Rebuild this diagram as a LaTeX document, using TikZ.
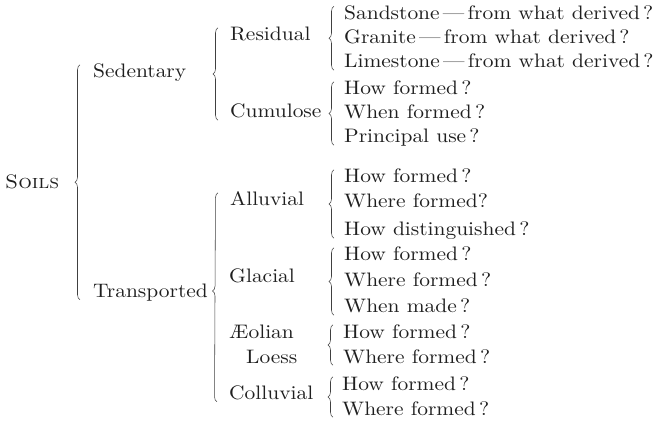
\documentclass[tikz,border=0pt]{standalone}
\usepackage{fontspec}
\setmainfont{lmroman10-regular.otf}[FakeStretch=1.1,SmallCapsFont=lmromancaps10-regular.otf,SmallCapsFeatures={FakeStretch=1.1}]
\usepackage{tikz}
\usetikzlibrary{decorations.pathreplacing}

\begin{document}
\begin{tikzpicture}[x=1pt,y=-1pt]
\tikzstyle{item}=[anchor=base west,inner sep=0pt,text height=13pt,text depth=2pt,font=\fontsize{19.5}{22}\selectfont,text=black!88]
\tikzstyle{brc}=[decorate,decoration={brace,amplitude=5pt},line width=0.55pt,draw=black!75]
\useasboundingbox (0,0) rectangle (662,422);
% root
\node[item] at(5, 189) (soils) {\textsc{Soils}};
\node[item] at(93, 78) (sedent) {Sedentary};
\node[item] at(93, 297.5) (transp) {Transported};
% second column
\node[item] at(230, 41) (resid) {Residual};
\node[item] at(230, 118) (cumul) {Cumulose};
\node[item] at(230, 206) (alluv) {Alluvial};
\node[item] at(229, 283) (glac) {Glacial};
\node[item] at(229, 338) (aeol) {\AE olian};
\node[item] at(246, 363) (loess) {Loess};
\node[item] at(229, 399.5) (colluv) {Colluvial};
% questions
\node[item] at(344, 19.5) (sand) {Sandstone\,---\,from what derived\,?};
\node[item] at(344, 44) (gran) {Granite\,---\,from what derived\,?};
\node[item] at(344, 68) (lime) {Limestone\,---\,from what derived\,?};
\node[item] at(344, 95) (cumhow) {How formed\,?};
\node[item] at(344, 119) (cumwhen) {When formed\,?};
\node[item] at(344, 143) (cumuse) {Principal use\,?};
\node[item] at(344, 183) (allhow) {How formed\,?};
\node[item] at(344, 208) (allwhere) {Where formed?};
\node[item] at(344, 236) (alldist) {How distinguished\,?};
\node[item] at(344, 261) (glahow) {How formed\,?};
\node[item] at(344, 287) (glawhere) {Where formed\,?};
\node[item] at(344, 313) (glawhen) {When made\,?};
\node[item] at(343, 338) (aeohow) {How formed\,?};
\node[item] at(343, 363) (aeowhere) {Where formed\,?};
\node[item] at(342, 390) (colhow) {How formed\,?};
\node[item] at(342, 415) (colwhere) {Where formed\,?};
% braces
\draw[brc] ([xshift=-13pt]transp.south west) -- ([xshift=-13pt]sedent.north west);
\draw[brc] ([xshift=-12pt]cumul.south west) -- ([xshift=-12pt]resid.north west);
\draw[brc,decoration={aspect=0.53}] ([xshift=-12pt]colluv.south west) -- ([xshift=-12pt]alluv.north west);
\draw[brc] ([xshift=-10pt]lime.south west) -- ([xshift=-10pt]sand.north west);
\draw[brc] ([xshift=-10pt]cumuse.south west) -- ([xshift=-10pt]cumhow.north west);
\draw[brc] ([xshift=-10pt]alldist.south west) -- ([xshift=-10pt]allhow.north west);
\draw[brc] ([xshift=-10pt]glawhen.south west) -- ([xshift=-10pt]glahow.north west);
\draw[brc] ([xshift=-10pt]aeowhere.south west) -- ([xshift=-10pt]aeohow.north west);
\draw[brc] ([xshift=-9pt]colwhere.south west) -- ([xshift=-9pt]colhow.north west);
\end{tikzpicture}
\end{document}
